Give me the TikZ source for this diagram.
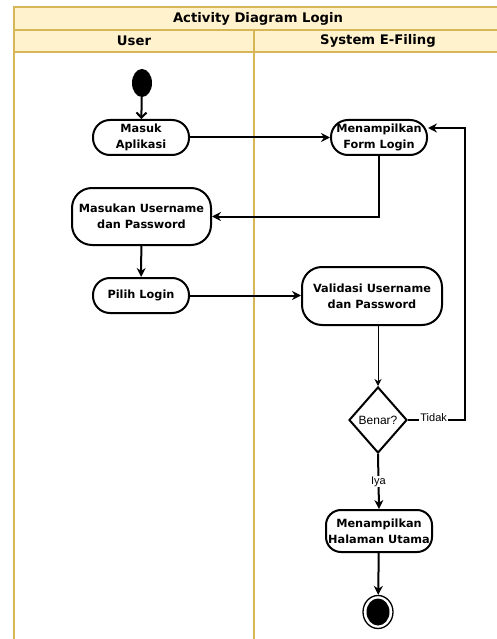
\documentclass[tikz,border=0pt]{standalone}
\usepackage{fontspec}
\setmainfont{DejaVu Sans}
\newfontfamily\narrowfont{Liberation Sans}
\usetikzlibrary{arrows.meta,shapes.geometric}
\definecolor{lanegold}{HTML}{D6B656}
\definecolor{lanefill}{HTML}{FFF2CC}
\tikzset{
  lane/.style={draw=lanegold, line width=2.2pt},
  head/.style={font=\bfseries\fontsize{13.2}{15}\selectfont, inner sep=0pt},
  act/.style={draw, line width=2pt, rounded corners=#1, align=center, inner sep=0pt,
     font=\bfseries\fontsize{11.3}{16}\selectfont},
  act/.default=17pt,
  arr/.style={line width=2pt, -{Stealth[length=9pt,width=9pt]}},
  openarr/.style={line width=2pt, -{Straight Barb[length=5pt,width=10pt]}},
  thinarr/.style={line width=1pt, -{Stealth[length=7pt,width=7pt]}},
  lbl/.style={fill=white, inner sep=1pt, font=\narrowfont\fontsize{11}{12}\selectfont},
}
\begin{document}
\begin{tikzpicture}[x=1pt,y=-1pt]
\useasboundingbox (0,0) rectangle (497,639);
\clip (0,0) rectangle (497,639);
% swimlanes
\fill[white] (0,0) rectangle (497,639);
\path[lane, fill=lanefill] (14,7) rectangle (502,30);
\path[lane, fill=lanefill] (14,30) rectangle (502,52);
\draw[lane] (14,52) -- (14,660);
\draw[lane] (254,30) -- (254,660);
\draw[lane] (502,52) -- (502,660);
\node[head] (title) at (258,18.5) {Activity Diagram Login};
\node[head] (huser) at (134,41) {User};
\node[head] (hsys) at (378,41) {System E-Filing};
% nodes
\node[ellipse, fill=black, minimum width=20pt, minimum height=28pt, inner sep=0pt] (start) at (142,83) {};
\node[act, minimum width=96pt, minimum height=35pt] (masuk) at (141,137.5) {Masuk\\Aplikasi};
\node[act, minimum width=96pt, minimum height=35pt] (form) at (379,137.5) {Menampilkan\\Form Login};
\node[act=20pt, minimum width=139pt, minimum height=57pt] (masukan) at (141.5,216.5) {Masukan Username\\dan Password};
\node[act, minimum width=96pt, minimum height=35pt] (pilih) at (141,295.5) {Pilih Login};
\node[act=20pt, minimum width=140pt, minimum height=58pt] (valid) at (372,296) {Validasi Username\\dan Password};
\node[diamond, draw, line width=2pt, minimum width=58pt, minimum height=66pt, inner sep=0pt,
      font=\narrowfont\fontsize{12}{13}\selectfont] (dia) at (378,420) {Benar?};
\node[act=15pt, minimum width=106pt, minimum height=42pt] (home) at (379,531) {Menampilkan\\Halaman Utama};
\node[ellipse, draw, line width=1.3pt, minimum width=30pt, minimum height=33pt, inner sep=0pt,
      path picture={\fill[black] (path picture bounding box.center) ellipse (11.5pt and 13.5pt);}] (end) at (378,612) {};
\coordinate (tk) at (465,128);
% connectors
\draw[openarr] (start) -- (masuk);
\draw[arr] (masuk) -- (form);
\draw[arr] (form.south) |- (masukan.east);
\draw[arr] (masukan) -- (pilih);
\draw[arr] (pilih.east) -- (pilih.east -| valid.west);
\draw[thinarr] (valid.south -| dia.north) -- (dia.north);
\draw[arr] (dia.east) -- node[lbl, pos=0.45, yshift=2pt] (ltidak) {Tidak} (dia.east -| tk) -- (tk) -- (tk -| form.east);
\draw[arr] (dia.south) -- node[lbl, pos=0.5] (liya) {Iya} (home.north);
\draw[arr] (home) -- (end);
\end{tikzpicture}
\end{document}
